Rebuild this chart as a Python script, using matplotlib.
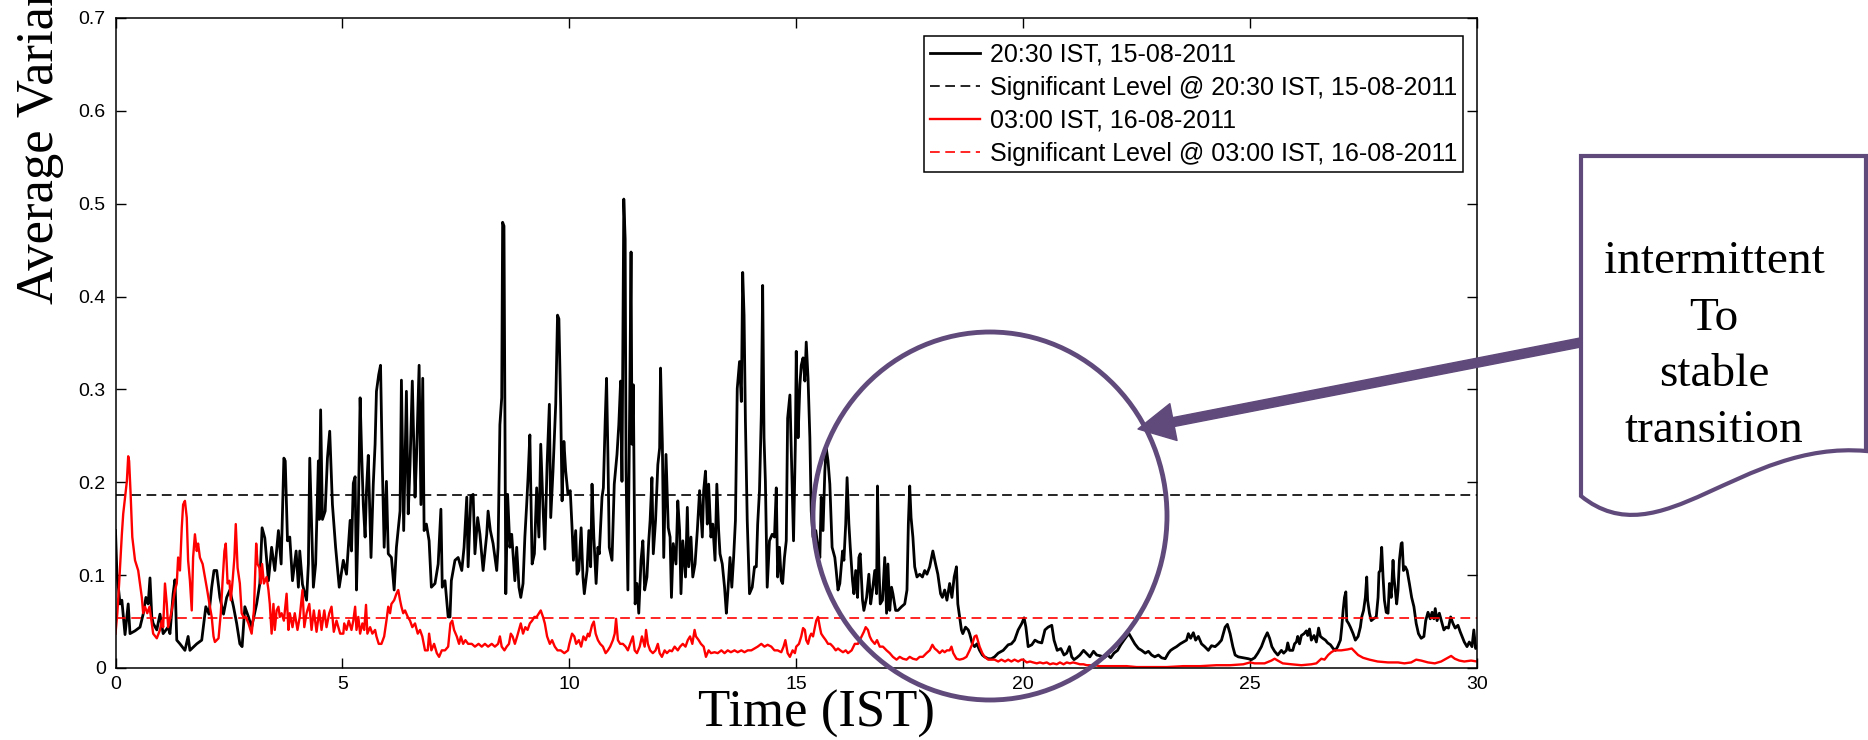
import matplotlib
matplotlib.use("Agg")
import matplotlib.pyplot as plt
from matplotlib.patches import Ellipse, FancyArrowPatch, PathPatch, ArrowStyle
from matplotlib.path import Path

# values: (time, average variance)
black_a = [(0.00, 0.148), (0.03, 0.103), (0.10, 0.069), (0.14, 0.073), (0.21, 0.036), (0.28, 0.069),
           (0.32, 0.037), (0.43, 0.040), (0.54, 0.044), (0.61, 0.058), (0.67, 0.076), (0.72, 0.069),
           (0.76, 0.097), (0.80, 0.055), (0.83, 0.048), (0.91, 0.041), (0.98, 0.058), (1.05, 0.037),
           (1.16, 0.044), (1.20, 0.037), (1.27, 0.080), (1.31, 0.095), (1.35, 0.030), (1.42, 0.026),
           (1.53, 0.019), (1.60, 0.034), (1.64, 0.019), (1.79, 0.026), (1.90, 0.030), (1.99, 0.066),
           (2.06, 0.058), (2.12, 0.087), (2.17, 0.105), (2.23, 0.105), (2.30, 0.076), (2.38, 0.058),
           (2.45, 0.076), (2.52, 0.084), (2.60, 0.066), (2.67, 0.048), (2.74, 0.026), (2.79, 0.023),
           (2.85, 0.066), (2.93, 0.055), (3.00, 0.044), (3.11, 0.069), (3.18, 0.091), (3.23, 0.151),
           (3.29, 0.140), (3.37, 0.094), (3.44, 0.130), (3.51, 0.105), (3.59, 0.148), (3.65, 0.112),
           (3.71, 0.226), (3.74, 0.223), (3.79, 0.137), (3.84, 0.141), (3.90, 0.094), (3.98, 0.126),
           (4.03, 0.087), (4.06, 0.126), (4.12, 0.090), (4.21, 0.073), (4.25, 0.112), (4.28, 0.226),
           (4.36, 0.087), (4.41, 0.112), (4.47, 0.223), (4.49, 0.160), (4.52, 0.278), (4.56, 0.160),
           (4.62, 0.169), (4.67, 0.226), (4.72, 0.255), (4.78, 0.176), (4.85, 0.130), (4.93, 0.087),
           (5.02, 0.116)]
black_b = [(5.09, 0.101), (5.17, 0.159), (5.20, 0.126), (5.24, 0.199), (5.28, 0.206), (5.31, 0.084),
           (5.35, 0.166), (5.39, 0.291), (5.42, 0.237), (5.46, 0.176), (5.50, 0.141), (5.53, 0.191),
           (5.57, 0.229), (5.63, 0.119), (5.68, 0.198), (5.72, 0.241), (5.75, 0.298), (5.80, 0.316),
           (5.84, 0.326), (5.88, 0.216), (5.92, 0.130), (5.97, 0.201), (6.01, 0.123), (6.08, 0.119),
           (6.14, 0.084), (6.19, 0.130), (6.27, 0.169), (6.30, 0.310), (6.35, 0.148), (6.41, 0.298),
           (6.45, 0.166), (6.49, 0.219), (6.54, 0.309), (6.60, 0.184), (6.63, 0.223), (6.69, 0.326),
           (6.73, 0.176), (6.77, 0.312), (6.80, 0.148), (6.85, 0.155), (6.91, 0.137), (6.96, 0.087),
           (7.04, 0.091), (7.11, 0.112), (7.17, 0.171), (7.20, 0.087), (7.26, 0.094), (7.33, 0.055),
           (7.37, 0.055), (7.40, 0.094), (7.48, 0.116), (7.55, 0.119), (7.63, 0.105), (7.68, 0.130),
           (7.74, 0.184), (7.77, 0.109), (7.83, 0.185), (7.88, 0.187), (7.92, 0.123), (7.98, 0.162),
           (8.03, 0.144), (8.10, 0.105), (8.18, 0.144), (8.21, 0.169), (8.26, 0.148), (8.32, 0.134),
           (8.40, 0.105), (8.43, 0.130), (8.47, 0.262), (8.51, 0.291), (8.53, 0.480), (8.56, 0.476),
           (8.58, 0.284), (8.60, 0.080), (8.64, 0.187), (8.69, 0.130), (8.73, 0.144), (8.80, 0.094),
           (8.84, 0.130), (8.89, 0.087), (8.93, 0.076), (8.98, 0.091), (9.02, 0.141), (9.06, 0.176),
           (9.09, 0.205), (9.13, 0.251), (9.18, 0.112), (9.23, 0.123), (9.28, 0.194), (9.33, 0.141),
           (9.37, 0.241), (9.42, 0.173), (9.46, 0.128), (9.51, 0.219), (9.56, 0.284), (9.59, 0.162),
           (9.64, 0.212), (9.70, 0.284), (9.74, 0.380), (9.77, 0.376), (9.81, 0.280), (9.84, 0.180),
           (9.88, 0.244), (9.92, 0.212), (9.97, 0.187)]
black_c = [(10.02, 0.191), (10.06, 0.151), (10.09, 0.116), (10.14, 0.148), (10.17, 0.101), (10.21, 0.105),
           (10.26, 0.151), (10.30, 0.098), (10.33, 0.080), (10.39, 0.105), (10.43, 0.148), (10.47, 0.109),
           (10.50, 0.198), (10.54, 0.141), (10.59, 0.091), (10.63, 0.130), (10.66, 0.123), (10.72, 0.184),
           (10.75, 0.194), (10.79, 0.266), (10.82, 0.312), (10.85, 0.230), (10.88, 0.130), (10.94, 0.116),
           (10.99, 0.198), (11.05, 0.230), (11.09, 0.262), (11.13, 0.309), (11.16, 0.201), (11.20, 0.505),
           (11.23, 0.462), (11.25, 0.212), (11.29, 0.084), (11.33, 0.284), (11.36, 0.448), (11.38, 0.241),
           (11.41, 0.305), (11.45, 0.069), (11.49, 0.091), (11.53, 0.059), (11.58, 0.116), (11.62, 0.137),
           (11.66, 0.084), (11.71, 0.098), (11.75, 0.137), (11.78, 0.159), (11.82, 0.205), (11.85, 0.123),
           (11.90, 0.159), (11.95, 0.219), (11.99, 0.237), (12.01, 0.323), (12.05, 0.241), (12.08, 0.119),
           (12.13, 0.230), (12.18, 0.151), (12.22, 0.141), (12.25, 0.076), (12.29, 0.134), (12.35, 0.112),
           (12.39, 0.180), (12.43, 0.148), (12.46, 0.080), (12.50, 0.137), (12.56, 0.098), (12.60, 0.173),
           (12.63, 0.109), (12.68, 0.141), (12.72, 0.098), (12.77, 0.112), (12.82, 0.148), (12.87, 0.191),
           (12.93, 0.141), (12.96, 0.191), (13.00, 0.212), (13.04, 0.155), (13.07, 0.198), (13.12, 0.141),
           (13.16, 0.155), (13.21, 0.116), (13.25, 0.198), (13.29, 0.148), (13.32, 0.123), (13.37, 0.112),
           (13.42, 0.087), (13.46, 0.059), (13.49, 0.080), (13.54, 0.119), (13.58, 0.087), (13.62, 0.119),
           (13.66, 0.159), (13.70, 0.301), (13.75, 0.330), (13.79, 0.287), (13.82, 0.426), (13.85, 0.380),
           (13.88, 0.266), (13.92, 0.159), (13.97, 0.080), (14.03, 0.087), (14.08, 0.109), (14.12, 0.109),
           (14.15, 0.155), (14.19, 0.191), (14.23, 0.273), (14.26, 0.412), (14.29, 0.248), (14.32, 0.201),
           (14.36, 0.087), (14.41, 0.137), (14.47, 0.144), (14.52, 0.141), (14.56, 0.194), (14.59, 0.098),
           (14.63, 0.130), (14.67, 0.094), (14.70, 0.091), (14.74, 0.119), (14.78, 0.137), (14.81, 0.269),
           (14.86, 0.294), (14.89, 0.234), (14.94, 0.137), (14.98, 0.241), (15.00, 0.341)]
black_d = [(15.02, 0.284), (15.04, 0.248), (15.08, 0.305), (15.11, 0.326), (15.15, 0.334), (15.19, 0.309),
           (15.22, 0.351), (15.26, 0.312), (15.30, 0.248), (15.33, 0.169), (15.37, 0.141), (15.43, 0.148),
           (15.48, 0.130), (15.52, 0.119), (15.55, 0.184), (15.59, 0.148), (15.63, 0.212), (15.66, 0.237),
           (15.70, 0.223), (15.74, 0.198), (15.79, 0.130), (15.85, 0.119), (15.88, 0.105), (15.92, 0.084),
           (15.96, 0.091), (16.02, 0.126), (16.05, 0.116), (16.09, 0.155), (16.12, 0.205), (16.16, 0.155),
           (16.19, 0.130), (16.24, 0.094), (16.27, 0.080), (16.31, 0.105), (16.35, 0.076), (16.38, 0.119),
           (16.41, 0.123), (16.46, 0.073), (16.49, 0.062), (16.55, 0.076), (16.60, 0.101), (16.64, 0.069),
           (16.68, 0.084), (16.73, 0.105), (16.77, 0.080), (16.79, 0.196), (16.82, 0.112), (16.85, 0.069),
           (16.90, 0.073), (16.95, 0.119), (16.99, 0.059), (17.02, 0.112), (17.06, 0.062), (17.10, 0.087),
           (17.13, 0.080), (17.19, 0.062), (17.24, 0.062), (17.32, 0.066), (17.39, 0.069), (17.44, 0.084),
           (17.47, 0.155), (17.50, 0.196), (17.53, 0.162), (17.57, 0.141), (17.61, 0.109), (17.66, 0.098),
           (17.72, 0.101), (17.78, 0.098), (17.83, 0.105), (17.88, 0.101), (17.94, 0.109), (18.01, 0.126),
           (18.07, 0.112), (18.12, 0.101), (18.18, 0.080), (18.22, 0.076), (18.27, 0.084), (18.32, 0.073),
           (18.38, 0.091), (18.43, 0.076), (18.48, 0.098), (18.53, 0.109), (18.56, 0.069), (18.60, 0.055),
           (18.64, 0.041), (18.67, 0.037), (18.73, 0.044), (18.79, 0.041), (18.82, 0.037), (18.88, 0.026),
           (18.93, 0.023), (18.98, 0.026), (19.04, 0.019), (19.10, 0.014), (19.15, 0.012), (19.23, 0.010),
           (19.30, 0.010), (19.37, 0.012), (19.45, 0.016), (19.56, 0.019), (19.67, 0.025), (19.74, 0.026),
           (19.81, 0.030), (19.89, 0.041), (19.97, 0.048)]
black_e = [(20.02, 0.054), (20.06, 0.044), (20.11, 0.023), (20.19, 0.025), (20.26, 0.030), (20.33, 0.028),
           (20.41, 0.027), (20.48, 0.041), (20.55, 0.044), (20.63, 0.046), (20.68, 0.030), (20.75, 0.019),
           (20.83, 0.021), (20.90, 0.014), (20.96, 0.016), (21.02, 0.023), (21.07, 0.012), (21.12, 0.009),
           (21.18, 0.011), (21.25, 0.014), (21.33, 0.019), (21.39, 0.016), (21.47, 0.012), (21.55, 0.018),
           (21.62, 0.014), (21.71, 0.013), (21.78, 0.011), (21.86, 0.014), (21.93, 0.011), (22.00, 0.016),
           (22.08, 0.019), (22.15, 0.025), (22.22, 0.030), (22.28, 0.034), (22.33, 0.037), (22.39, 0.032),
           (22.46, 0.026), (22.54, 0.021), (22.61, 0.019), (22.69, 0.016), (22.76, 0.018), (22.83, 0.014),
           (22.90, 0.012), (22.98, 0.014), (23.05, 0.011), (23.13, 0.010), (23.20, 0.016), (23.25, 0.019),
           (23.31, 0.021), (23.38, 0.023), (23.46, 0.026), (23.53, 0.028), (23.60, 0.030), (23.64, 0.037),
           (23.69, 0.032), (23.75, 0.038), (23.80, 0.030), (23.86, 0.034), (23.93, 0.026), (24.00, 0.023),
           (24.08, 0.019), (24.15, 0.024), (24.23, 0.023), (24.30, 0.026), (24.37, 0.030), (24.45, 0.044),
           (24.50, 0.047), (24.56, 0.037), (24.62, 0.023), (24.67, 0.014), (24.74, 0.012), (24.85, 0.011),
           (24.96, 0.010)]
black_f = [(25.03, 0.009), (25.10, 0.011), (25.17, 0.016), (25.25, 0.023), (25.32, 0.032), (25.38, 0.038),
           (25.43, 0.032), (25.48, 0.023), (25.54, 0.018), (25.61, 0.014), (25.69, 0.019), (25.74, 0.016),
           (25.80, 0.019), (25.83, 0.027), (25.87, 0.019), (25.94, 0.019), (25.98, 0.026), (26.02, 0.028),
           (26.05, 0.034), (26.09, 0.026), (26.13, 0.035), (26.19, 0.037), (26.24, 0.040), (26.27, 0.035),
           (26.31, 0.042), (26.35, 0.030), (26.41, 0.035), (26.46, 0.028), (26.51, 0.043), (26.55, 0.034),
           (26.60, 0.032), (26.66, 0.030), (26.71, 0.027), (26.77, 0.025), (26.83, 0.021), (26.88, 0.019),
           (26.93, 0.023), (26.99, 0.030), (27.02, 0.044), (27.05, 0.062), (27.08, 0.076), (27.11, 0.082),
           (27.13, 0.051), (27.17, 0.048), (27.21, 0.044), (27.27, 0.037), (27.32, 0.030), (27.38, 0.034),
           (27.43, 0.044), (27.46, 0.055), (27.50, 0.062), (27.54, 0.076), (27.57, 0.098), (27.59, 0.073),
           (27.63, 0.059), (27.67, 0.051), (27.72, 0.053), (27.78, 0.055), (27.82, 0.076), (27.84, 0.103),
           (27.87, 0.105), (27.90, 0.130), (27.93, 0.098), (27.96, 0.073), (28.00, 0.060), (28.04, 0.059),
           (28.07, 0.091), (28.11, 0.076), (28.15, 0.116), (28.17, 0.098), (28.20, 0.084), (28.23, 0.069),
           (28.26, 0.084), (28.29, 0.116), (28.33, 0.134), (28.35, 0.135), (28.38, 0.105), (28.42, 0.109),
           (28.46, 0.105), (28.51, 0.091), (28.56, 0.076), (28.61, 0.066), (28.66, 0.048), (28.71, 0.037),
           (28.77, 0.032), (28.83, 0.034), (28.87, 0.051), (28.92, 0.060), (28.97, 0.053), (29.01, 0.060),
           (29.05, 0.053), (29.08, 0.064), (29.12, 0.051), (29.17, 0.059), (29.23, 0.048), (29.27, 0.041),
           (29.32, 0.044), (29.37, 0.043), (29.42, 0.055), (29.47, 0.048), (29.52, 0.043), (29.58, 0.046),
           (29.63, 0.039), (29.67, 0.034), (29.72, 0.028), (29.78, 0.023), (29.83, 0.028), (29.89, 0.023),
           (29.93, 0.041), (29.97, 0.021), (30.00, 0.023)]

red_a = [(0.00, 0.037), (0.04, 0.059), (0.08, 0.091), (0.14, 0.144), (0.17, 0.166), (0.21, 0.184),
         (0.25, 0.201), (0.28, 0.228), (0.30, 0.223), (0.33, 0.191), (0.37, 0.141), (0.43, 0.116),
         (0.50, 0.105), (0.58, 0.076), (0.61, 0.059), (0.65, 0.066), (0.70, 0.059), (0.75, 0.066),
         (0.80, 0.048), (0.83, 0.037), (0.91, 0.032), (0.98, 0.041), (1.02, 0.051), (1.05, 0.044),
         (1.09, 0.091), (1.13, 0.069), (1.16, 0.044), (1.24, 0.062), (1.31, 0.084), (1.35, 0.091),
         (1.38, 0.119), (1.42, 0.105), (1.46, 0.151), (1.49, 0.176), (1.53, 0.180), (1.57, 0.162),
         (1.60, 0.116), (1.64, 0.094), (1.68, 0.062), (1.71, 0.119), (1.75, 0.144), (1.79, 0.126),
         (1.82, 0.134), (1.86, 0.119), (1.92, 0.112), (1.97, 0.098), (2.02, 0.084), (2.08, 0.066),
         (2.12, 0.055), (2.16, 0.034), (2.19, 0.028), (2.27, 0.032), (2.32, 0.059), (2.36, 0.094),
         (2.40, 0.126), (2.43, 0.134), (2.47, 0.091), (2.51, 0.094), (2.54, 0.073), (2.58, 0.094),
         (2.62, 0.119), (2.65, 0.155), (2.69, 0.108), (2.74, 0.091), (2.78, 0.059), (2.82, 0.055),
         (2.87, 0.055), (2.93, 0.048), (3.00, 0.037), (3.05, 0.062), (3.10, 0.134), (3.13, 0.112),
         (3.17, 0.108), (3.20, 0.091), (3.23, 0.112), (3.27, 0.091), (3.33, 0.098), (3.37, 0.084),
         (3.40, 0.069), (3.44, 0.037), (3.48, 0.069), (3.51, 0.041), (3.55, 0.062), (3.59, 0.066),
         (3.62, 0.055), (3.66, 0.059), (3.71, 0.051), (3.77, 0.080), (3.81, 0.041), (3.84, 0.059),
         (3.90, 0.044), (3.95, 0.059), (4.01, 0.041), (4.06, 0.055), (4.12, 0.084), (4.16, 0.044),
         (4.21, 0.059), (4.27, 0.069), (4.32, 0.041), (4.37, 0.062), (4.43, 0.039), (4.49, 0.062),
         (4.54, 0.041), (4.60, 0.062), (4.65, 0.044), (4.71, 0.059), (4.76, 0.066), (4.81, 0.039),
         (4.87, 0.051), (4.95, 0.037), (5.02, 0.037)]
red_b = [(5.04, 0.048), (5.09, 0.041), (5.14, 0.051), (5.20, 0.041), (5.24, 0.051), (5.28, 0.066),
         (5.31, 0.041), (5.35, 0.055), (5.39, 0.037), (5.44, 0.048), (5.48, 0.041), (5.52, 0.068),
         (5.55, 0.037), (5.61, 0.044), (5.66, 0.037), (5.72, 0.041), (5.75, 0.034), (5.80, 0.026),
         (5.86, 0.026), (5.92, 0.034), (5.97, 0.051), (6.01, 0.066), (6.05, 0.059), (6.08, 0.069),
         (6.14, 0.073), (6.19, 0.080), (6.23, 0.084), (6.27, 0.073), (6.30, 0.066), (6.34, 0.059),
         (6.38, 0.062), (6.44, 0.055), (6.49, 0.051), (6.54, 0.044), (6.60, 0.048), (6.66, 0.037),
         (6.71, 0.041), (6.76, 0.034), (6.82, 0.019), (6.88, 0.019), (6.91, 0.037), (6.96, 0.019),
         (7.02, 0.026), (7.08, 0.016), (7.13, 0.012), (7.19, 0.019), (7.26, 0.019), (7.33, 0.023),
         (7.38, 0.048), (7.42, 0.051), (7.46, 0.041), (7.52, 0.034), (7.57, 0.026), (7.61, 0.034),
         (7.66, 0.026), (7.71, 0.030), (7.77, 0.026), (7.85, 0.026), (7.92, 0.023), (8.00, 0.026),
         (8.07, 0.023), (8.14, 0.026), (8.21, 0.023), (8.29, 0.026), (8.36, 0.023), (8.43, 0.026),
         (8.47, 0.034), (8.51, 0.023), (8.57, 0.019), (8.62, 0.023), (8.67, 0.026), (8.71, 0.037),
         (8.75, 0.034), (8.80, 0.026), (8.85, 0.034), (8.89, 0.041), (8.93, 0.048), (8.98, 0.037),
         (9.03, 0.044), (9.08, 0.041), (9.13, 0.048), (9.18, 0.051), (9.23, 0.055), (9.28, 0.055),
         (9.33, 0.059), (9.37, 0.062), (9.42, 0.055), (9.46, 0.048), (9.51, 0.034), (9.57, 0.026),
         (9.62, 0.030), (9.68, 0.023), (9.74, 0.019), (9.81, 0.019), (9.89, 0.016), (9.97, 0.019)]
red_c = [(10.00, 0.026), (10.06, 0.037), (10.11, 0.034), (10.15, 0.026), (10.21, 0.030), (10.26, 0.023),
         (10.31, 0.034), (10.36, 0.030), (10.41, 0.037), (10.44, 0.034), (10.50, 0.046), (10.54, 0.050),
         (10.58, 0.037), (10.63, 0.030), (10.68, 0.026), (10.74, 0.023), (10.80, 0.016), (10.85, 0.019),
         (10.90, 0.023), (10.96, 0.030), (11.00, 0.037), (11.03, 0.053), (11.07, 0.030), (11.12, 0.026),
         (11.18, 0.026), (11.24, 0.023), (11.29, 0.019), (11.34, 0.026), (11.40, 0.034), (11.44, 0.019),
         (11.49, 0.016), (11.55, 0.023), (11.60, 0.034), (11.66, 0.023), (11.69, 0.041), (11.73, 0.026),
         (11.78, 0.019), (11.84, 0.016), (11.90, 0.019), (11.95, 0.026), (11.99, 0.016), (12.04, 0.012),
         (12.10, 0.019), (12.15, 0.016), (12.21, 0.019), (12.26, 0.018), (12.32, 0.023), (12.39, 0.019),
         (12.44, 0.023), (12.50, 0.026), (12.56, 0.023), (12.61, 0.030), (12.66, 0.034), (12.71, 0.026),
         (12.76, 0.041), (12.79, 0.034), (12.85, 0.030), (12.90, 0.026), (12.96, 0.023), (13.01, 0.012),
         (13.07, 0.019), (13.12, 0.016), (13.20, 0.017), (13.27, 0.016), (13.35, 0.019), (13.42, 0.016),
         (13.49, 0.019), (13.56, 0.017), (13.64, 0.019), (13.71, 0.017), (13.79, 0.019), (13.86, 0.017),
         (13.93, 0.019), (14.01, 0.019), (14.08, 0.021), (14.15, 0.023), (14.23, 0.026), (14.30, 0.023),
         (14.37, 0.025), (14.45, 0.023), (14.52, 0.019), (14.59, 0.019), (14.67, 0.017), (14.72, 0.023),
         (14.76, 0.030), (14.81, 0.016), (14.86, 0.012), (14.92, 0.019), (14.97, 0.016)]
red_d = [(15.00, 0.023), (15.06, 0.026), (15.11, 0.034), (15.15, 0.043), (15.19, 0.041), (15.22, 0.030),
         (15.26, 0.026), (15.30, 0.034), (15.33, 0.037), (15.37, 0.034), (15.41, 0.044), (15.44, 0.051),
         (15.48, 0.055), (15.52, 0.044), (15.55, 0.037), (15.59, 0.034), (15.65, 0.030), (15.70, 0.026),
         (15.75, 0.026), (15.81, 0.023), (15.87, 0.019), (15.92, 0.021), (15.97, 0.019), (16.03, 0.017),
         (16.09, 0.019), (16.14, 0.016), (16.22, 0.019), (16.29, 0.026), (16.36, 0.026), (16.44, 0.034),
         (16.49, 0.039), (16.53, 0.044), (16.58, 0.041), (16.62, 0.034), (16.66, 0.030), (16.73, 0.026),
         (16.78, 0.030), (16.84, 0.023), (16.91, 0.023), (16.99, 0.019), (17.06, 0.016), (17.13, 0.012),
         (17.21, 0.009), (17.28, 0.012), (17.35, 0.010), (17.43, 0.009), (17.50, 0.012), (17.57, 0.010),
         (17.65, 0.009), (17.72, 0.012), (17.79, 0.012), (17.87, 0.016), (17.94, 0.019), (18.00, 0.025),
         (18.05, 0.021), (18.10, 0.019), (18.16, 0.016), (18.22, 0.019), (18.27, 0.017), (18.32, 0.019),
         (18.38, 0.019), (18.42, 0.023), (18.46, 0.016), (18.53, 0.010), (18.60, 0.009), (18.68, 0.010),
         (18.75, 0.012), (18.82, 0.019), (18.88, 0.026), (18.93, 0.034), (18.97, 0.035), (19.00, 0.030),
         (19.04, 0.023), (19.10, 0.016), (19.15, 0.012), (19.23, 0.009), (19.30, 0.009), (19.37, 0.009),
         (19.45, 0.007), (19.52, 0.009), (19.60, 0.007), (19.67, 0.009), (19.74, 0.007), (19.81, 0.009),
         (19.89, 0.007), (19.96, 0.009)]
red_e = [(20.00, 0.009), (20.08, 0.006), (20.15, 0.007), (20.22, 0.006), (20.30, 0.005), (20.37, 0.006),
         (20.44, 0.005), (20.52, 0.006), (20.59, 0.004), (20.66, 0.005), (20.74, 0.004), (20.81, 0.006),
         (20.89, 0.004), (20.96, 0.006), (21.03, 0.005), (21.10, 0.006), (21.18, 0.005), (21.25, 0.004),
         (21.33, 0.004), (21.40, 0.003), (21.47, 0.003), (21.58, 0.003), (21.69, 0.002), (21.84, 0.002),
         (22.06, 0.002), (22.28, 0.002), (22.50, 0.001), (22.80, 0.001), (23.16, 0.001), (23.53, 0.002),
         (23.90, 0.002), (24.26, 0.003), (24.56, 0.003), (24.85, 0.004), (25.00, 0.006)]
red_f = [(25.10, 0.005), (25.32, 0.005), (25.47, 0.008), (25.54, 0.010), (25.61, 0.008), (25.72, 0.005),
         (25.91, 0.004), (26.13, 0.003), (26.35, 0.004), (26.46, 0.005), (26.57, 0.010), (26.64, 0.009),
         (26.72, 0.014), (26.79, 0.017), (26.86, 0.019), (27.01, 0.019), (27.15, 0.020), (27.24, 0.021),
         (27.30, 0.018), (27.38, 0.014), (27.49, 0.011), (27.63, 0.009), (27.81, 0.007), (28.04, 0.006),
         (28.26, 0.006), (28.40, 0.005), (28.55, 0.006), (28.66, 0.009), (28.77, 0.008), (28.92, 0.006),
         (29.07, 0.005), (29.21, 0.007), (29.32, 0.010), (29.43, 0.013), (29.51, 0.010), (29.61, 0.008),
         (29.72, 0.007), (29.87, 0.008), (30.00, 0.007)]

sig_black = 0.186
sig_red = 0.054

x_ticks = [0, 5, 10, 15, 20, 25, 30]
y_ticks = [0, 0.1, 0.2, 0.3, 0.4, 0.5, 0.6, 0.7]
y_tick_labels = ["0", "0.1", "0.2", "0.3", "0.4", "0.5", "0.6", "0.7"]
labels = ["20:30 IST, 15-08-2011",
          "Significant Level @ 20:30 IST, 15-08-2011",
          "03:00 IST, 16-08-2011",
          "Significant Level @ 03:00 IST, 16-08-2011"]
note_lines = ["intermittent", "To", "stable", "transition"]

plt.rcParams["font.family"] = ["Liberation Sans", "DejaVu Sans"]
plt.rcParams["lines.scale_dashes"] = False

W, H = 1868, 740
fig = plt.figure(figsize=(W / 100, H / 100), dpi=100)


def px(x, y):
    # pixel position in the picture -> figure fraction
    return (x / W, 1 - y / H)


ax = fig.add_axes([115.5 / W, 1 - 668 / H, (1477 - 115.5) / W, (668 - 18) / H])

black = black_a + black_b + black_c + black_d + black_e + black_f
red = red_a + red_b + red_c + red_d + red_e + red_f
bt, bv = zip(*black)
rt, rv = zip(*red)

ax.plot(bt, bv, color="black", lw=2.0, label=labels[0])
ax.axhline(sig_black, color="black", lw=1.2, dashes=(7, 4), label=labels[1])
ax.plot(rt, rv, color="red", lw=1.7, label=labels[2])
ax.axhline(sig_red, color="red", lw=1.2, dashes=(7, 4), label=labels[3])

ax.set_xlim(0, 30)
ax.set_ylim(0, 0.7)
ax.set_xticks(x_ticks)
ax.set_yticks(y_ticks)
ax.set_yticklabels(y_tick_labels)
ax.tick_params(direction="in", top=True, right=True, length=7, width=1, labelsize=14)
ax.tick_params(axis="y", pad=7)
ax.tick_params(axis="x", pad=6)
for s in ax.spines.values():
    s.set_linewidth(1.1)

leg = ax.legend(loc="upper right", bbox_to_anchor=(0.99, 0.972), borderaxespad=0,
                fontsize=18, fancybox=False, framealpha=1, edgecolor="black",
                borderpad=0.25, labelspacing=0.37, handlelength=2.0, handletextpad=0.4)
leg.get_frame().set_linewidth(1.1)

serif = ["Liberation Serif", "DejaVu Serif"]
fig.text(817 / W, 1 - 727 / H, "Time (IST)", ha="center", va="baseline",
         fontsize=38, family=serif)
fig.text(16 / W, 1 - 304 / H, "Average Variance", rotation=90, ha="left", va="bottom",
         fontsize=38, family=serif)

purple = "#604A7B"
fig.add_artist(Ellipse(px(990, 516), 354 / W, 368 / H, transform=fig.transFigure,
                       fill=False, edgecolor=purple, lw=3.5, zorder=5))

arrow = FancyArrowPatch(px(1583, 342), px(1138, 429), transform=fig.transFigure,
                        arrowstyle=ArrowStyle("simple", head_length=2.6, head_width=2.7, tail_width=0.65),
                        mutation_scale=10, color=purple, shrinkA=0, shrinkB=0, zorder=5)
fig.add_artist(arrow)

verts = [px(1581, 156), px(1866, 156), px(1866, 451),
         px(1740, 440), px(1660, 560), px(1581, 496), px(1581, 156)]
codes = [Path.MOVETO, Path.LINETO, Path.LINETO,
         Path.CURVE4, Path.CURVE4, Path.CURVE4, Path.CLOSEPOLY]
fig.add_artist(PathPatch(Path(verts, codes), transform=fig.transFigure, facecolor="white",
                         edgecolor=purple, lw=3, zorder=6))

for line, yb in zip(note_lines, [273, 330, 386, 442]):
    fig.text(1714 / W, 1 - yb / H, line, ha="center", va="baseline", fontsize=34,
             family=serif, zorder=7)

fig.savefig("out.png", dpi=100)
